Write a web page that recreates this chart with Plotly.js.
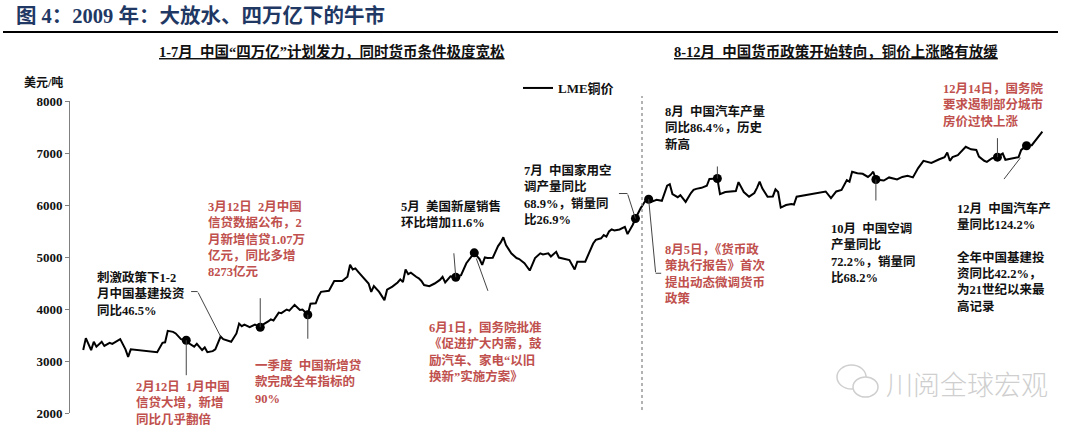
<!DOCTYPE html>
<html>
<head>
<meta charset="utf-8">
<script src="https://cdn.plot.ly/plotly-3.0.1.min.js"></script>
<style>html,body{margin:0;padding:0;background:#fff;}#chart{width:1080px;height:431px;}</style>
</head>
<body>
<div id="chart"></div>
<script>
// ---- data ----
const dates = [
'2009-01-02','2009-01-03','2009-01-05','2009-01-06','2009-01-07','2009-01-09','2009-01-10','2009-01-12','2009-01-13','2009-01-15',
'2009-01-16','2009-01-18','2009-01-19','2009-01-20','2009-01-30','2009-02-01','2009-02-02','2009-02-03','2009-02-05','2009-02-06',
'2009-02-08','2009-02-10','2009-02-11','2009-02-13','2009-02-14','2009-02-16','2009-02-17','2009-02-18','2009-02-20','2009-02-21',
'2009-02-22','2009-02-23','2009-02-24','2009-02-26','2009-02-27','2009-03-01','2009-03-02','2009-03-03','2009-03-04','2009-03-06',
'2009-03-08','2009-03-10','2009-03-11','2009-03-13','2009-03-14','2009-03-15','2009-03-17','2009-03-18','2009-03-20','2009-03-21',
'2009-03-22','2009-03-23','2009-03-25','2009-03-26','2009-03-28','2009-03-29','2009-03-31','2009-04-01','2009-04-02','2009-04-05',
'2009-04-07','2009-04-10','2009-04-12','2009-04-13','2009-04-14','2009-04-15','2009-04-16','2009-04-18','2009-04-20','2009-04-21',
'2009-04-22','2009-04-24','2009-04-26','2009-04-27','2009-04-29','2009-05-01','2009-05-02','2009-05-03','2009-05-04','2009-05-05',
'2009-05-06','2009-05-08','2009-05-09','2009-05-10','2009-05-11','2009-05-13','2009-05-15','2009-05-17','2009-05-18','2009-05-19',
'2009-05-20','2009-05-21','2009-05-23','2009-05-25','2009-05-27','2009-05-30','2009-06-01','2009-06-02','2009-06-03','2009-06-04',
'2009-06-06','2009-06-08','2009-06-09','2009-06-10','2009-06-11','2009-06-12','2009-06-13','2009-06-15','2009-06-16','2009-06-18',
'2009-06-20','2009-06-22','2009-06-24','2009-06-25','2009-06-27','2009-06-28','2009-06-30','2009-07-01','2009-07-03','2009-07-05',
'2009-07-07','2009-07-08','2009-07-11','2009-07-13','2009-07-14','2009-07-15','2009-07-17','2009-07-18','2009-07-19','2009-07-20',
'2009-07-21','2009-07-22','2009-07-24','2009-07-26','2009-07-27','2009-07-29','2009-07-30','2009-08-01','2009-08-03','2009-08-04',
'2009-08-05','2009-08-07','2009-08-09','2009-08-11','2009-08-12','2009-08-13','2009-08-15','2009-08-16','2009-08-18','2009-08-20',
'2009-08-21','2009-08-22','2009-08-24','2009-08-26','2009-08-27','2009-08-30','2009-08-31','2009-09-02','2009-09-04','2009-09-06',
'2009-09-07','2009-09-08','2009-09-09','2009-09-11','2009-09-13','2009-09-14','2009-09-15','2009-09-16','2009-09-18','2009-09-20',
'2009-09-21','2009-09-22','2009-09-23','2009-09-25','2009-09-27','2009-09-28','2009-09-29','2009-10-10','2009-10-12','2009-10-14',
'2009-10-16','2009-10-18','2009-10-19','2009-10-20','2009-10-22','2009-10-24','2009-10-26','2009-10-27','2009-10-28','2009-10-29',
'2009-11-01','2009-11-03','2009-11-06','2009-11-08','2009-11-10','2009-11-12','2009-11-14','2009-11-16','2009-11-17','2009-11-19',
'2009-11-22','2009-11-24','2009-11-25','2009-11-26','2009-11-27','2009-11-29','2009-12-02','2009-12-04','2009-12-06','2009-12-07',
'2009-12-09','2009-12-10','2009-12-12','2009-12-14','2009-12-15','2009-12-16','2009-12-17','2009-12-20','2009-12-22','2009-12-23',
'2009-12-25','2009-12-27','2009-12-29','2009-12-31'
];
const prices = [
3210,3440,3210,3370,3275,3370,3290,3350,3330,3400,
3420,3225,3080,3225,3170,3350,3360,3580,3560,3530,
3420,3400,3340,3275,3330,3210,3260,3170,3190,3225,
3350,3470,3420,3390,3370,3530,3720,3670,3700,3650,
3700,3650,3700,3760,3800,3780,3930,3920,3990,3970,
4030,4080,3980,3990,3890,4100,4110,4240,4330,4350,
4540,4540,4620,4850,4760,4780,4720,4610,4490,4330,
4440,4330,4170,4370,4430,4510,4570,4520,4760,4670,
4700,4620,4590,4540,4460,4440,4490,4560,4620,4510,
4560,4630,4610,4650,4880,5080,4960,4850,4990,4980,
4985,5210,5280,5380,5230,5150,5070,4980,4960,4880,
4740,4980,5070,5050,5070,5010,5100,4990,4960,4940,
4760,4910,4910,5130,5260,5330,5360,5420,5390,5490,
5530,5510,5530,5580,5440,5620,5740,5940,6100,6110,
6060,6100,6080,6370,6400,6210,6150,6190,6060,6230,
6290,6310,6330,6370,6500,6510,6210,6250,6260,6270,
6440,6350,6250,6160,6230,6330,6450,6320,6160,6165,
6300,6250,5950,6000,6020,6010,6160,6260,6130,6260,
6290,6480,6450,6640,6610,6600,6540,6580,6640,6490,
6470,6530,6490,6540,6560,6530,6710,6850,6840,6810,
6880,6920,7010,6850,6920,6960,7120,7070,7060,6930,
6850,6830,6900,6920,6960,6990,6870,6900,6920,7060,
7140,7150,7280,7410
];
const markerDates  = ['2009-02-10','2009-03-10','2009-03-28','2009-05-23','2009-05-30','2009-07-30','2009-08-04','2009-08-30','2009-10-29','2009-12-14','2009-12-25'];
const markerPrices = [3400,3650,3890,4610,5080,5740,6110,6510,6490,6920,7140];
const yTickVals = [2000,3000,4000,5000,6000,7000,8000];
const yTickText = ['2000','3000','4000','5000','6000','7000','8000'];
const seriesName = 'LME铜价';

// ---- layout helpers (pixel -> paper) ----
const L = 70, R = 35, T = 101, B = 18, W = 1080, H = 431;
const PW = W - L - R, PH = H - T - B;
const PX = x => (x - L) / PW;
const PY = y => (H - B - y) / PH;

const FONT = 'Liberation Serif, "Noto Sans CJK SC", serif';
const RED = '#c0504d';
const BLACK = '#111111';

function textBlock(lines, left, firstRowCenter, color) {
  return {
    xref: 'paper', yref: 'paper', x: PX(left), y: PY(firstRowCenter - 9),
    xanchor: 'left', yanchor: 'top', align: 'left', showarrow: false,
    text: lines.join('<br>'),
    font: {family: FONT, size: 12.5, color: color, weight: 'bold'}
  };
}
function leader(x, y, ax, ay, opts) {
  return Object.assign({
    xref: 'x', yref: 'y', x: x, y: y, ax: ax, ay: ay, axref: 'pixel', ayref: 'pixel',
    text: ' ', showarrow: true, arrowhead: 0, arrowwidth: 1, arrowcolor: '#444',
    standoff: 0, startstandoff: 0, font: {size: 1}, borderpad: 0
  }, opts || {});
}

const annotations = [
  // title
  {xref:'paper', yref:'paper', x: PX(14), y: PY(15), xanchor:'left', yanchor:'middle', showarrow:false,
   text:'图 4：2009 年：大放水、四万亿下的牛市', font:{family:FONT, size:20.5, color:'#1f3864', weight:'bold'}},
  // section headers
  {xref:'paper', yref:'paper', x: PX(332), y: PY(52), xanchor:'center', yanchor:'middle', showarrow:false,
   text:'<u>1-7月  中国“四万亿”计划发力，同时货币条件极度宽松</u>', font:{family:FONT, size:14.5, color:BLACK, weight:'bold'}},
  {xref:'paper', yref:'paper', x: PX(836), y: PY(52), xanchor:'center', yanchor:'middle', showarrow:false,
   text:'<u>8-12月  中国货币政策开始转向，铜价上涨略有放缓</u>', font:{family:FONT, size:14.5, color:BLACK, weight:'bold'}},
  // y unit
  {xref:'paper', yref:'paper', x: PX(22), y: PY(82), xanchor:'left', yanchor:'middle', showarrow:false,
   text:'美元/吨', font:{family:FONT, size:12, color:BLACK, weight:'bold'}},
  // callout texts
  textBlock(['刺激政策下1-2','月中国基建投资','同比46.5%'], 95, 277, BLACK),
  textBlock(['3月12日  2月中国','信贷数据公布，2','月新增信贷1.07万','亿元，同比多增','8273亿元'], 206, 206, RED),
  textBlock(['2月12日  1月中国','信贷大增，新增','同比几乎翻倍'], 134, 386, RED),
  textBlock(['一季度  中国新增贷','款完成全年指标的','90%'], 253, 365, RED),
  textBlock(['5月  美国新屋销售','环比增加11.6%'], 399, 206, BLACK),
  textBlock(['6月1日，国务院批准','《促进扩大内需，鼓','励汽车、家电“以旧','换新”实施方案》'], 427, 327, RED),
  textBlock(['7月  中国家用空','调产量同比','68.9%，销量同','比26.9%'], 522, 170, BLACK),
  textBlock(['8月5日，《货币政','策执行报告》首次','提出动态微调货币','政策'], 663, 249, RED),
  textBlock(['8月  中国汽车产量','同比86.4%，历史','新高'], 663, 111, BLACK),
  textBlock(['10月  中国空调','产量同比','72.2%，销量同','比68.2%'], 829, 228, BLACK),
  textBlock(['12月14日，国务院','要求遏制部分城市','房价过快上涨'], 941, 88, RED),
  textBlock(['12月  中国汽车产','量同比124.2%','','全年中国基建投','资同比42.2%，','为21世纪以来最','高记录'], 955, 208, BLACK),
  // watermark
  {xref:'paper', yref:'paper', x: PX(884), y: PY(383), xanchor:'left', yanchor:'middle', showarrow:false,
   text:'川阅全球宏观', font:{family:'"Noto Sans CJK SC", sans-serif', size:27, color:'#cfcfcf', weight:300}},
  // leader lines
  leader(markerDates[0], markerPrices[0], 0, 36),
  leader(markerDates[1], markerPrices[1], 0, -30),
  leader(markerDates[2], markerPrices[2], 0, 25),
  leader(markerDates[3], markerPrices[3], -2, -25),
  leader(markerDates[4], markerPrices[4], 14, 39, {standoff: 6}),
  leader(markerDates[5], markerPrices[5], -8, -25),
  leader(markerDates[5], markerPrices[5], -9, 0, {xshift: -8, yshift: 25}),
  leader(markerDates[6], markerPrices[6], 7, 74),
  leader(markerDates[6], markerPrices[6], 6, 0, {xshift: 7, yshift: -74}),
  leader(markerDates[7], markerPrices[7], 0, -13),
  leader(markerDates[8], markerPrices[8], 0, 22),
  leader(markerDates[9], markerPrices[9], 0, -20),
  leader(markerDates[10], markerPrices[10], -17, 22, {xshift: -6, yshift: -12}),
  leader(dates[31], prices[31], -23, -45),
  leader(dates[31], prices[31], -7, 0, {xshift: -23, yshift: 45})
];

const shapes = [
  // top rule under the title
  {type:'line', xref:'paper', yref:'paper', x0: PX(3), x1: PX(1058), y0: PY(32), y1: PY(32), line:{color:'#000', width:2}},
  // divider between the two periods
  {type:'line', xref:'paper', yref:'paper', x0: PX(642), x1: PX(642), y0: PY(410), y1: PY(96), line:{color:'#8a8a8a', width:1.3, dash:'dot'}},
  // watermark icon
  {type:'circle', xref:'paper', yref:'paper', x0: PX(837), x1: PX(866), y0: PY(389), y1: PY(365), line:{color:'#cfcfcf', width:1.5}, fillcolor:'rgba(255,255,255,0)'},
  {type:'circle', xref:'paper', yref:'paper', x0: PX(853), x1: PX(878), y0: PY(397), y1: PY(377), line:{color:'#cfcfcf', width:1.5}, fillcolor:'#ffffff'}
];

const traces = [
  {x: dates, y: prices, type:'scatter', mode:'lines', name: seriesName,
   line:{color:'#000', width:2}, showlegend:true},
  {x: markerDates, y: markerPrices, type:'scatter', mode:'markers', name:'events',
   marker:{color:'#000', size:9}, showlegend:false}
];

const layout = {
  width: W, height: H,
  margin: {l: L, r: R, t: T, b: B, pad: 0},
  paper_bgcolor: '#fff', plot_bgcolor: '#fff',
  font: {family: FONT, color: BLACK},
  showlegend: true,
  legend: {x: PX(518), y: PY(73), xanchor:'left', yanchor:'top', bgcolor:'rgba(0,0,0,0)',
           itemwidth: 30, font:{family:FONT, size:13, color:BLACK, weight:'bold'}},
  xaxis: {type:'date', range:['2008-12-28','2010-01-01'], showticklabels:false, showgrid:false,
          zeroline:false, showline:false, ticks:'', fixedrange:true},
  yaxis: {range:[2000, 8000], tickvals: yTickVals, ticktext: yTickText, showgrid:false, zeroline:false,
          showline:true, linecolor:'#808080', linewidth:1, ticks:'outside', ticklen:4, tickcolor:'#808080',
          tickfont:{family:FONT, size:13, color:BLACK, weight:'bold'}, fixedrange:true},
  annotations: annotations,
  shapes: shapes
};

Plotly.newPlot('chart', traces, layout, {staticPlot:true, displayModeBar:false});
</script>
</body>
</html>
